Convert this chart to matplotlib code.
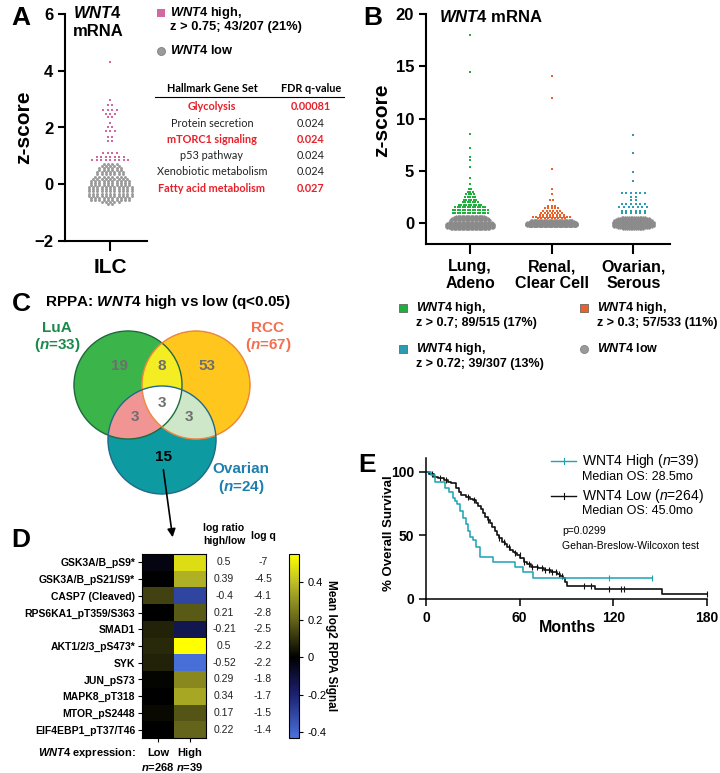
import matplotlib.pyplot as plt
import numpy as np
from matplotlib.patches import Circle
from matplotlib.colors import LinearSegmentedColormap, Normalize, to_rgba

plt.rcParams['font.family'] = ['Liberation Sans', 'DejaVu Sans']
plt.rcParams['mathtext.fontset'] = 'custom'
plt.rcParams['mathtext.it'] = 'Liberation Sans:italic:bold'
plt.rcParams['mathtext.rm'] = 'Liberation Sans:bold'
plt.rcParams['mathtext.bf'] = 'Liberation Sans:bold'
plt.rcParams['mathtext.sf'] = 'Liberation Sans:italic'

# ---------------- data ----------------
# A: ILC WNT4 mRNA z-scores, swarm rows (z level, number of dots)
a_high_z = [4.3, 2.96, 2.78, 2.6, 2.49, 2.37, 2.16, 2.0, 1.88, 1.67, 1.53, 1.1, 0.97, 0.86]
a_high_n = [1, 1, 2, 4, 3, 2, 1, 2, 3, 2, 2, 4, 7, 9]
a_low_z = [0.72, 0.645, 0.57, 0.495, 0.42, 0.345, 0.27, 0.195, 0.12, 0.045,
           -0.03, -0.105, -0.18, -0.255, -0.33, -0.405, -0.48, -0.555, -0.63, -0.705]
a_low_n = [4, 5, 6, 6, 7, 7, 8, 9, 10, 10, 10, 11, 11, 11, 11, 11, 10, 10, 5, 2]

gene_sets = ['Glycolysis', 'Protein secretion', 'mTORC1 signaling', 'p53 pathway',
             'Xenobiotic metabolism', 'Fatty acid metabolism']
fdr_q = ['0.00081', '0.024', '0.024', '0.024', '0.024', '0.027']
fdr_red = [True, False, True, False, False, True]

# B: pan-cancer WNT4 z-scores, swarm rows
b_cats = ['Lung,\nAdeno', 'Renal,\nClear Cell', 'Ovarian,\nSerous']
lung_hi_z = [18.0, 14.5, 8.5, 7.2, 6.3, 6.0, 5.4, 4.3, 3.7, 3.3, 3.0, 2.8, 2.5, 2.2, 2.0, 1.75, 1.5, 1.25, 1.0]
lung_hi_n = [1, 1, 1, 1, 1, 1, 1, 1, 1, 2, 3, 4, 5, 6, 7, 10, 13, 15, 15]
lung_lo_z = [0.65, 0.55, 0.45, 0.35, 0.25, 0.15, 0.05, -0.05, -0.15, -0.25, -0.35, -0.45, -0.55]
lung_lo_n = [22, 26, 28, 30, 32, 34, 36, 38, 38, 38, 38, 36, 30]
renal_hi_z = [14.1, 12.0, 5.2, 3.3, 2.8, 2.2, 1.65, 1.45, 1.2, 1.0, 0.8, 0.6, 0.45]
renal_hi_n = [1, 1, 1, 1, 1, 2, 3, 5, 6, 7, 8, 12, 9]
renal_lo_z = [0.25, 0.2, 0.15, 0.1, 0.05, 0.0, -0.05, -0.1, -0.15, -0.2, -0.25, -0.3]
renal_lo_n = [34, 36, 38, 40, 40, 42, 42, 42, 42, 42, 40, 38]
ov_hi_z = [8.4, 6.7, 4.9, 4.0, 2.85, 2.5, 2.2, 1.8, 1.5, 1.2, 1.0]
ov_hi_n = [1, 1, 1, 1, 6, 2, 2, 6, 7, 6, 6]
ov_lo_z = [0.6, 0.5, 0.4, 0.3, 0.2, 0.1, 0.0, -0.1, -0.2, -0.3, -0.4, -0.5, -0.6]
ov_lo_n = [14, 18, 20, 22, 22, 24, 24, 24, 24, 24, 22, 18, 12]

# C: Venn counts
venn_counts = {'G': 19, 'GO': 8, 'O': 53, 'GT': 3, 'GOT': 3, 'OT': 3, 'T': 15}

# D: RPPA heatmap
d_rows = ['GSK3A/B_pS9*', 'GSK3A/B_pS21/S9*', 'CASP7 (Cleaved)', 'RPS6KA1_pT359/S363',
          'SMAD1', 'AKT1/2/3_pS473*', 'SYK', 'JUN_pS73', 'MAPK8_pT318',
          'MTOR_pS2448', 'EIF4EBP1_pT37/T46']
d_low = [-0.03, 0.0, 0.13, 0.0, 0.07, 0.08, 0.07, 0.01, 0.0, 0.02, 0.0]
d_high = [0.47, 0.37, -0.3, 0.18, -0.14, 0.55, -0.42, 0.28, 0.35, 0.17, 0.2]
d_ratio = ['0.5', '0.39', '-0.4', '0.21', '-0.21', '0.5', '-0.52', '0.29', '0.34', '0.17', '0.22']
d_logq = ['-7', '-4.5', '-4.1', '-2.8', '-2.5', '-2.2', '-2.2', '-1.8', '-1.7', '-1.5', '-1.4']

# E: Kaplan-Meier
t_high = [0, 3, 6, 12, 15, 17, 18.5, 20, 22, 24, 25.5, 27, 28.5, 30, 32, 34.5, 43, 57, 62, 68.5, 145]
s_high = [100, 97.4, 92.3, 87.2, 84.6, 79.5, 76.9, 74.4, 69.2, 64.1, 59.0, 53.8, 48.7, 46.2, 41.0,
          33.3, 29.4, 25.5, 21.6, 16.5, 16.5]
cens_high = [117, 145]
t_low = [0, 2, 5, 8, 11.5, 14, 16, 19, 21, 22.5, 25.5, 28, 30, 32, 33.5, 35, 36.5, 38, 39.5, 41,
         42.5, 44, 45.5, 47, 49, 50.5, 52, 54, 55.5, 57, 58.5, 60.5, 63, 65, 67, 69, 71.5, 75.5,
         80, 84, 86, 87.5, 89, 90.5, 108.5, 151, 180]
s_low = [100, 98.1, 96.3, 95.0, 93.7, 92.3, 91.1, 87.1, 84.2, 81.9, 80.1, 78.8, 77.6, 75.2, 73.3,
         70.8, 67.5, 64.8, 62.2, 59.6, 56.9, 53.9, 50.7, 48.2, 45.1, 43.1, 41.2, 38.9, 37.2, 35.9,
         34.6, 32.0, 29.4, 27.3, 25.4, 24.8, 24.2, 22.8, 21.5, 19.7, 18.3, 16.3, 13.5, 10.2, 7.8,
         4.2, 4.2]
cens_low = [4, 9, 13, 27, 31, 40, 47, 50, 53, 57, 60, 63, 66, 68, 71, 74, 76, 79, 81, 83, 85, 87,
            101, 106, 117, 125, 127, 180]

# ---------------- helpers ----------------
W, H = 720, 773


def box(l, t, r, b):
    return [l / W, 1 - b / H, (r - l) / W, (b - t) / H]


def swarm(levels, counts, step):
    x, y = [], []
    for z, n in zip(levels, counts):
        x += list((np.arange(n) - (n - 1) / 2) * step)
        y += [z] * n
    return np.array(x), np.array(y)


def step_value(t, s, at):
    idx = np.searchsorted(t, at, side='right') - 1
    return np.array(s)[idx]


def style_axes(ax, lw=1.5):
    ax.spines['top'].set_visible(False)
    ax.spines['right'].set_visible(False)
    for sp in ['left', 'bottom']:
        ax.spines[sp].set_linewidth(lw)
    ax.tick_params(width=lw, length=5)
    for lab in ax.get_xticklabels() + ax.get_yticklabels():
        lab.set_fontweight('bold')


pink = '#d2689f'
gray = '#9a9a9a'
green = '#22ad3f'
orange = '#e8622a'
teal = '#2b9cb2'
red = '#e8202a'

fig = plt.figure(figsize=(7.2, 7.73), dpi=100)

ov = fig.add_axes([0, 0, 1, 1])
ov.set_zorder(10)
ov.axis('off')

# ---------------- A ----------------
axA = fig.add_axes(box(65, 14, 147, 241))
xs, ys = swarm(a_low_z, a_low_n, 4.3 / 82)
axA.scatter(xs, ys, marker='o', s=4.5, color=gray, linewidths=0)
xs, ys = swarm(a_high_z, a_high_n, 4.5 / 82)
axA.scatter(xs, ys, marker='s', s=4, color=pink, linewidths=0)
axA.set_xlim(-0.55, 0.45)
axA.set_ylim(-2, 6)
axA.set_yticks([-2, 0, 2, 4, 6])
axA.set_xticks([0])
axA.set_xticklabels(['ILC'], fontsize=15)
axA.tick_params(axis='y', labelsize=12)
style_axes(axA)
axA.tick_params(axis='x', length=7, pad=5)

ov.text(21, 18, 'A', ha='center', va='center', fontsize=19, fontweight='bold')
ov.text(24, 127, 'z-score', rotation=90, ha='center', va='center', fontsize=15, fontweight='bold')
ov.text(73, 13, r'$\it{WNT4}$', ha='left', va='center', fontsize=12)
ov.text(73, 32, 'mRNA', ha='left', va='center', fontsize=12, fontweight='bold')

ov.scatter([161], [13], marker='s', s=30, color=pink, linewidths=0)
ov.text(170, 13, r'$\it{WNT4}$ high,', ha='left', va='center', fontsize=9.3, fontweight='bold')
ov.text(170, 27, 'z > 0.75; 43/207 (21%)', ha='left', va='center', fontsize=9.3, fontweight='bold')
ov.scatter([161], [51], marker='o', s=34, color=gray, edgecolors='#777777', linewidths=0.5)
ov.text(170, 51, r'$\it{WNT4}$ low', ha='left', va='center', fontsize=9.3, fontweight='bold')

tf = ['Lato', 'DejaVu Sans']
ov.text(212, 89, 'Hallmark Gene Set', ha='center', va='center', fontsize=7.8, fontweight='bold', family=tf)
ov.text(311, 89, 'FDR q-value', ha='center', va='center', fontsize=7.8, fontweight='bold', family=tf)
ov.plot([155, 344], [97, 97], color='k', lw=0.8)
for i, (g, q, r) in enumerate(zip(gene_sets, fdr_q, fdr_red)):
    yy = 107 + i * 16.2
    c = red if r else '#222222'
    w = 'bold' if r else 'normal'
    ov.text(212, yy, g, ha='center', va='center', fontsize=7.8, color=c, fontweight=w, family=tf)
    ov.text(311, yy, q, ha='center', va='center', fontsize=7.8, color=c, fontweight=w, family=tf)

# ---------------- B ----------------
axB = fig.add_axes(box(426, 14, 670, 244))
groups = [
    (lung_lo_z, lung_lo_n, 1.3, lung_hi_z, lung_hi_n, 2.5, green),
    (renal_lo_z, renal_lo_n, 1.25, renal_hi_z, renal_hi_n, 3.4, orange),
    (ov_lo_z, ov_lo_n, 1.8, ov_hi_z, ov_hi_n, 4.6, teal),
]
for i, (lz, ln, lstep, hz, hn, hstep, col) in enumerate(groups):
    xs, ys = swarm(lz, ln, lstep / 81.5)
    axB.scatter(i + 1 + xs, ys, marker='o', s=3, color='#8a8a8a', linewidths=0)
    xs, ys = swarm(hz, hn, hstep / 81.5)
    axB.scatter(i + 1 + xs, ys, marker='s', s=3.5, color=col, linewidths=0)
axB.set_xlim(0.46, 3.45)
axB.set_ylim(-2, 20)
axB.set_yticks([0, 5, 10, 15, 20])
axB.set_xticks([1, 2, 3])
axB.set_xticklabels(b_cats, fontsize=11.5, linespacing=1.15)
axB.tick_params(axis='y', labelsize=12)
style_axes(axB)
axB.tick_params(axis='x', length=7, pad=4)

ov.text(373, 18, 'B', ha='center', va='center', fontsize=19, fontweight='bold')
ov.text(382, 120, 'z-score', rotation=90, ha='center', va='center', fontsize=15, fontweight='bold')
ov.text(439, 17, r'$\it{WNT4}$ mRNA', ha='left', va='center', fontsize=12, fontweight='bold')

leg_b = [
    (403, 308, green, 'z > 0.7; 89/515 (17%)'),
    (403, 349, teal, 'z > 0.72; 39/307 (13%)'),
    (584, 308, orange, 'z > 0.3; 57/533 (11%)'),
]
for x0, y0, col, line2 in leg_b:
    ov.scatter([x0], [y0], marker='s', s=30, color=col, edgecolors='#555555', linewidths=0.5)
    ov.text(x0 + 13, y0, r'$\it{WNT4}$ high,', ha='left', va='center', fontsize=9, fontweight='bold')
    ov.text(x0 + 13, y0 + 15, line2, ha='left', va='center', fontsize=9, fontweight='bold')
ov.scatter([584], [349], marker='o', s=34, color=gray, edgecolors='#777777', linewidths=0.5)
ov.text(597, 349, r'$\it{WNT4}$ low', ha='left', va='center', fontsize=9, fontweight='bold')

# ---------------- C (Venn) ----------------
ov.text(21, 304, 'C', ha='center', va='center', fontsize=19, fontweight='bold')
ov.text(45, 302, r'RPPA: $\it{WNT4}$ high vs low (q<0.05)', ha='left', va='center',
        fontsize=11, fontweight='bold')

cG, cO, cT, rad = (128, 385), (196, 385), (162, 440), 54
gx = np.linspace(0, 300, 900)
gy = np.linspace(320, 505, 555)
XX, YY = np.meshgrid(gx, gy)
inG = (XX - cG[0]) ** 2 + (YY - cG[1]) ** 2 <= rad ** 2
inO = (XX - cO[0]) ** 2 + (YY - cO[1]) ** 2 <= rad ** 2
inT = (XX - cT[0]) ** 2 + (YY - cT[1]) ** 2 <= rad ** 2
img = np.zeros(XX.shape + (4,))
regions = [
    (inG & ~inO & ~inT, '#3cb54a'),
    (inO & ~inG & ~inT, '#ffc61e'),
    (inT & ~inG & ~inO, '#0f9aa2'),
    (inG & inO & ~inT, '#f6ee24'),
    (inG & inT & ~inO, '#f29494'),
    (inO & inT & ~inG, '#cfe8c9'),
    (inG & inO & inT, '#ffffff'),
]
for mask, col in regions:
    img[mask] = to_rgba(col)
ov.imshow(img, extent=(0, 300, 505, 320), origin='upper', aspect='auto', interpolation='bilinear')
ov.add_patch(Circle(cG, rad, fill=False, ec='#1d6b3c', lw=1.0))
ov.add_patch(Circle(cO, rad, fill=False, ec='#f0873c', lw=1.0))
ov.add_patch(Circle(cT, rad, fill=False, ec='#1f6a8a', lw=1.0))

num_pos = {'G': (119, 366), 'GO': (162, 366), 'O': (207, 366), 'GT': (135, 417),
           'GOT': (162, 403), 'OT': (189, 417), 'T': (163, 457)}
for k, v in venn_counts.items():
    col = 'k' if k == 'T' else '#6e6e6e'
    ov.text(*num_pos[k], str(v), ha='center', va='center', fontsize=11, fontweight='bold', color=col)

ov.text(57, 328, 'LuA', ha='center', va='center', fontsize=11, fontweight='bold', color='#1a8a4c')
ov.text(57, 345, r'($\it{n}$=33)', ha='center', va='center', fontsize=11, fontweight='bold', color='#1a8a4c')
ov.text(268, 328, 'RCC', ha='center', va='center', fontsize=11, fontweight='bold', color='#f26f4f')
ov.text(268, 345, r'($\it{n}$=67)', ha='center', va='center', fontsize=11, fontweight='bold', color='#f26f4f')
ov.text(241, 469, 'Ovarian', ha='center', va='center', fontsize=11, fontweight='bold', color='#1f7fae')
ov.text(241, 487, r'($\it{n}$=24)', ha='center', va='center', fontsize=11, fontweight='bold', color='#1f7fae')

ov.annotate('', xy=(173, 540), xytext=(163, 467),
            arrowprops=dict(arrowstyle='-|>', color='k', lw=1.2, mutation_scale=12))

# ---------------- D (heatmap) ----------------
ov.text(21, 540, 'D', ha='center', va='center', fontsize=19, fontweight='bold')
vmin, vmax = -0.43, 0.55
nodes = [(-0.43, '#4a72dc'), (-0.2, '#1c2170'), (0.0, '#000000'), (0.2, '#64641a'),
         (0.4, '#bebe28'), (0.55, '#ffff00')]
cmap = LinearSegmentedColormap.from_list(
    'rppa', [((v - vmin) / (vmax - vmin), c) for v, c in nodes])
norm = Normalize(vmin=vmin, vmax=vmax)

axD = fig.add_axes(box(142, 554, 206, 738))
heat = np.column_stack([d_low, d_high])
im = axD.imshow(heat, cmap=cmap, norm=norm, aspect='auto', interpolation='nearest')
axD.set_yticks(range(len(d_rows)))
axD.set_yticklabels(d_rows, fontsize=7.5, fontweight='bold')
axD.set_xticks([0, 1])
axD.set_xticklabels([])
axD.tick_params(length=3, width=0.8, pad=2)
for sp in axD.spines.values():
    sp.set_linewidth(0.8)

ov.text(224, 528, 'log ratio', ha='center', va='center', fontsize=7.5, fontweight='bold')
ov.text(224, 541, 'high/low', ha='center', va='center', fontsize=7.5, fontweight='bold')
ov.text(263, 536, 'log q', ha='center', va='center', fontsize=7.5, fontweight='bold')
row_h = (738 - 554) / len(d_rows)
for i, (r, q) in enumerate(zip(d_ratio, d_logq)):
    yy = 554 + (i + 0.5) * row_h
    ov.text(224, yy, r, ha='center', va='center', fontsize=7.5, color='#222222')
    ov.text(263, yy, q, ha='center', va='center', fontsize=7.5, color='#222222')

ov.text(158, 753, 'Low', ha='center', va='center', fontsize=8, fontweight='bold')
ov.text(190, 753, 'High', ha='center', va='center', fontsize=8, fontweight='bold')
ov.text(158, 767, r'$\it{n}$=268', ha='center', va='center', fontsize=8, fontweight='bold')
ov.text(190, 767, r'$\it{n}$=39', ha='center', va='center', fontsize=8, fontweight='bold')
ov.text(136, 753, r'$\it{WNT4}$ expression:', ha='right', va='center', fontsize=8, fontweight='bold')

cax = fig.add_axes(box(289, 554, 299, 738))
cb = fig.colorbar(im, cax=cax, ticks=[-0.4, -0.2, 0, 0.2, 0.4])
cb.ax.set_yticklabels(['-0.4', '-0.2', '0', '0.2', '0.4'])
cb.ax.tick_params(labelsize=8, length=3, width=0.8, pad=3)
cb.outline.set_linewidth(0.8)
ov.text(331, 646, 'Mean log2 RPPA Signal', rotation=-90, ha='center', va='center',
        fontsize=8.5, fontweight='bold')

# ---------------- E (Kaplan-Meier) ----------------
ov.text(367, 465, 'E', ha='center', va='center', fontsize=19, fontweight='bold')
axE = fig.add_axes(box(426, 458, 707, 599))
axE.step(t_low, s_low, where='post', color='#111111', lw=1.2, clip_on=False)
axE.step(t_high, s_high, where='post', color='#1aa3b3', lw=1.1, clip_on=False)
axE.scatter(cens_low, step_value(t_low, s_low, cens_low), marker='|', s=18, color='#111111',
            linewidths=0.8, clip_on=False)
axE.scatter(cens_high, step_value(t_high, s_high, cens_high), marker='|', s=18, color='#1aa3b3',
            linewidths=0.8, clip_on=False)
axE.set_xlim(0, 180)
axE.set_ylim(0, 111)
axE.set_xticks([0, 60, 120, 180])
axE.set_yticks([0, 50, 100])
axE.tick_params(labelsize=10)
style_axes(axE, lw=1.1)
axE.tick_params(length=5, width=1.1)

ov.text(389, 533, '% Overall Survival', rotation=90, ha='center', va='center',
        fontsize=9.5, fontweight='bold')
ov.text(567, 627, 'Months', ha='center', va='center', fontsize=11.5, fontweight='bold')

ov.plot([551, 576], [461, 461], color='#1aa3b3', lw=1.0)
ov.plot([563.5, 563.5], [458, 464], color='#1aa3b3', lw=0.8)
ov.text(582, 461, r'WNT4 High ($\mathsf{n}$=39)', ha='left', va='center', fontsize=10)
ov.text(582, 477, 'Median OS: 28.5mo', ha='left', va='center', fontsize=9)
ov.plot([551, 576], [496, 496], color='#111111', lw=1.0)
ov.plot([563.5, 563.5], [493, 499], color='#111111', lw=0.8)
ov.text(582, 496, r'WNT4 Low ($\mathsf{n}$=264)', ha='left', va='center', fontsize=10)
ov.text(582, 511, 'Median OS: 45.0mo', ha='left', va='center', fontsize=9)
ov.text(562, 531, 'p=0.0299', ha='left', va='center', fontsize=7.5)
ov.text(562, 546, 'Gehan-Breslow-Wilcoxon test', ha='left', va='center', fontsize=7.5)

ov.set_xlim(0, W)
ov.set_ylim(H, 0)

fig.savefig('out.png', dpi=100)
